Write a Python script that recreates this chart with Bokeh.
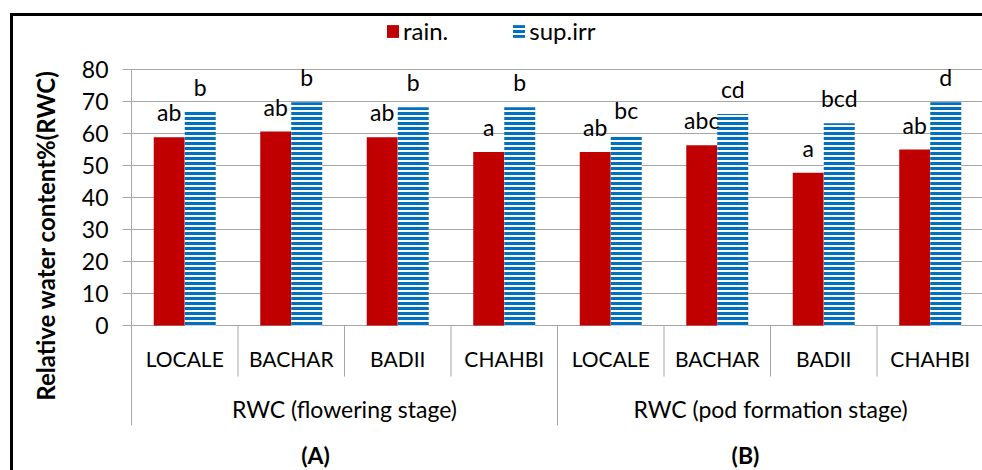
import numpy as np
from bokeh.plotting import figure
from bokeh.models import (ColumnDataSource, Range1d, FixedTicker, Legend,
                          LegendItem)
from bokeh.core.properties import value
from bokeh.embed import file_html
from bokeh.resources import INLINE

# ---------------- data ----------------
stages = ["RWC (flowering stage)", "RWC (pod formation stage)"]
cultivars = ["LOCALE", "BACHAR", "BADII", "CHAHBI"]
series_names = ["rain.", "sup.irr"]
rain = [58.8, 60.6, 58.8, 54.2, 54.2, 56.3, 47.7, 55.0]
sup_irr = [66.7, 69.8, 68.2, 68.2, 59.4, 66.1, 63.2, 69.8]
rain_letters = ["ab", "ab", "ab", "a", "ab", "abc", "a", "ab"]
irr_letters = ["b", "b", "b", "b", "bc", "cd", "bcd", "d"]
panel_labels = ["(A)", "(B)"]
y_ticks = [0, 10, 20, 30, 40, 50, 60, 70, 80]
y_title = "Relative water content%(RWC)"

# ---------------- layout helpers ----------------
W, H = 982, 470
LEFT = 131          # frame left edge (px)
CAT_PX = 106.5      # px per category
PX_PER_UNIT = 3.2   # px per y unit
ZERO_PX = 325       # y=0 position from top (px)
FONT = "Lato"
GRID = "#a6a6a6"
RED = "#C00000"
BLUE = "#0070C0"

x_end = (W - LEFT) / CAT_PX
y_start = -(H - ZERO_PX) / PX_PER_UNIT
y_end = ZERO_PX / PX_PER_UNIT


def dx(px):
    return (px - LEFT) / CAT_PX


def dy(px):
    return (ZERO_PX - px) / PX_PER_UNIT


n_cat = len(stages) * len(cultivars)
xc = np.arange(n_cat) + 0.5
BAR_W = 31 / CAT_PX

cat_labels = [c for _ in stages for c in cultivars]

src = ColumnDataSource(dict(
    x=xc, rain=rain, irr=sup_irr,
    xr=xc - BAR_W / 2, xi=xc + BAR_W / 2,
    rl=rain_letters, il=irr_letters, cat=cat_labels,
))

p = figure(width=W, height=H, x_range=Range1d(0, x_end),
           y_range=Range1d(y_start, y_end), output_backend="svg",
           toolbar_location=None, x_axis_location=None,
           min_border_left=LEFT, min_border_right=0, min_border_top=0,
           min_border_bottom=0, outline_line_color=None,
           background_fill_color="white", border_fill_color="white")

# y axis
ticker = FixedTicker(ticks=y_ticks)
ax = p.yaxis[0]
ax.ticker = ticker
ax.bounds = (dy(425), 80)
ax.axis_line_color = GRID
ax.major_tick_line_color = GRID
ax.major_tick_out = 9
ax.major_tick_in = 0
ax.minor_tick_line_color = None
ax.major_label_standoff = 14
ax.major_label_text_font = FONT
ax.major_label_text_font_size = "23px"
ax.major_label_text_color = "black"

p.ygrid.ticker = ticker
p.ygrid.grid_line_color = GRID
p.xgrid.grid_line_color = None

# bars
r1 = p.vbar(x="xr", top="rain", width=BAR_W, bottom=0, source=src,
            fill_color=RED, line_color=None)
r2 = p.vbar(x="xi", top="irr", width=BAR_W, bottom=0, source=src,
            fill_color="white", line_color=None,
            hatch_pattern="horizontal_line", hatch_color=BLUE,
            hatch_scale=5, hatch_weight=3)

# significance letters
p.text(x="xr", y="rain", text="rl", source=src, y_offset=-25,
       text_align="center", text_baseline="middle",
       text_font=value(FONT), text_font_size="23px", text_color="black")
p.text(x="xi", y="irr", text="il", source=src, y_offset=-25,
       text_align="center", text_baseline="middle",
       text_font=value(FONT), text_font_size="23px", text_color="black")

# category axis (drawn)
p.text(x="x", y=dy(358), text="cat", source=src,
       text_align="center", text_baseline="middle",
       text_font=value(FONT), text_font_size="21px", text_color="black")
gx = [len(cultivars) * (i + 0.5) for i in range(len(stages))]
p.text(x=gx, y=[dy(408)] * len(stages), text=stages,
       text_align="center", text_baseline="middle",
       text_font=value(FONT), text_font_size="23px", text_color="black")

inner = [i for i in range(1, n_cat) if i % len(cultivars) != 0]
outer = [i for i in range(1, n_cat) if i % len(cultivars) == 0]
p.segment(x0=inner, x1=inner, y0=[0] * len(inner),
          y1=[dy(376)] * len(inner), line_color=GRID, line_width=1)
p.segment(x0=outer, x1=outer, y0=[0] * len(outer),
          y1=[dy(425)] * len(outer), line_color=GRID, line_width=1)

# panel labels
p.text(x=[dx(315), dx(745)], y=[dy(454)] * 2, text=panel_labels,
       text_align="center", text_baseline="middle",
       text_font=value(FONT), text_font_style="bold",
       text_font_size="23px", text_color="black")

# y title (drawn outside the frame, so on the overlay level)
p.text(x=[dx(45)], y=[dy(235)], text=[y_title], angle=np.pi / 2,
       text_align="center", text_baseline="middle",
       text_font=value(FONT), text_font_style="bold",
       text_font_size="24px", text_color="black", level="overlay")

# outer chart frame (top + left border)
p.segment(x0=[dx(10)], x1=[dx(W + 10)], y0=[dy(14)], y1=[dy(14)],
          line_color="black", line_width=3, level="overlay")
p.segment(x0=[dx(11)], x1=[dx(11)], y0=[dy(12.5)], y1=[dy(H + 10)],
          line_color="black", line_width=3, level="overlay")

# legend
legend = Legend(items=[LegendItem(label=series_names[0], renderers=[r1]),
                       LegendItem(label=series_names[1], renderers=[r2])],
                orientation="horizontal", location=(254, 425),
                glyph_width=15, glyph_height=16, label_standoff=3,
                spacing=63, padding=0, margin=0,
                label_text_font=FONT, label_text_font_size="24px",
                label_text_color="black", border_line_color=None,
                background_fill_alpha=0)
p.add_layout(legend)

open("out.html", "w").write(file_html(p, INLINE))
